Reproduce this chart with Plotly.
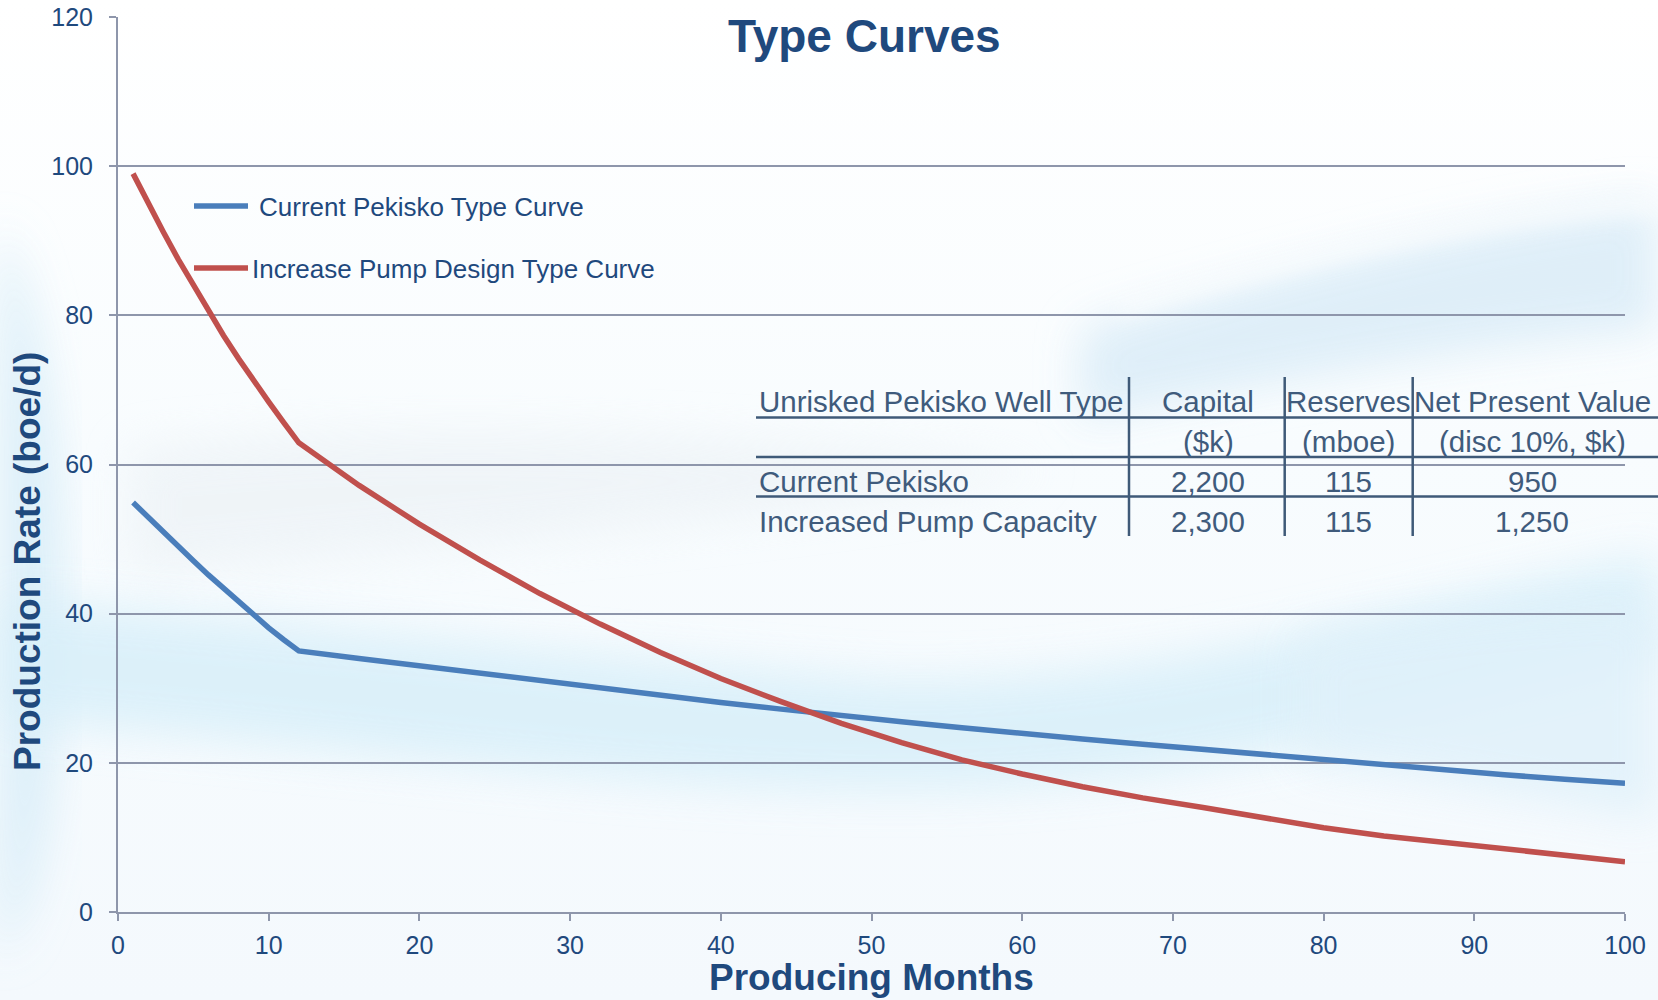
import base64
import plotly.graph_objects as go

# ---------------- data ----------------
months = [1, 2, 3, 4, 5, 6, 7, 8, 9, 10, 11, 12,
          16, 20, 24, 28, 32, 36, 40, 44, 48, 52, 56, 60,
          64, 68, 72, 76, 80, 84, 88, 92, 96, 100]
current_pekisko = [54.9, 52.9, 50.9, 49.0, 47.1, 45.2, 43.4, 41.6, 39.8, 38.1, 36.5, 35.0,
                   34.0, 33.0, 32.0, 31.0, 30.0, 29.0, 28.1, 27.2, 26.3, 25.5, 24.7, 23.9,
                   23.2, 22.5, 21.8, 21.1, 20.4, 19.7, 19.0, 18.4, 17.8, 17.25]
increase_pump = [99.0, 95.0, 91.2, 87.5, 84.0, 80.6, 77.3, 74.2, 71.2, 68.4, 65.6, 62.9,
                 57.2, 52.0, 47.2, 42.7, 38.6, 34.8, 31.3, 28.2, 25.3, 22.7, 20.4, 18.5,
                 16.8, 15.3, 14.0, 12.6, 11.3, 10.2, 9.3, 8.4, 7.55, 6.75]
series_names = ["Current Pekisko Type Curve", "Increase Pump Design Type Curve"]
series_colors = ["#4A7EBB", "#C0504D"]

x_ticks = [0, 10, 20, 30, 40, 50, 60, 70, 80, 90, 100]
y_ticks = [0, 20, 40, 60, 80, 100, 120]

table_header1 = ["Unrisked Pekisko Well Type", "Capital", "Reserves", "Net Present Value"]
table_header2 = ["", "($k)", "(mboe)", "(disc 10%, $k)"]
well_types = ["Current Pekisko", "Increased Pump Capacity"]
capital_k = ["2,200", "2,300"]
reserves_mboe = ["115", "115"]
npv_k = ["950", "1,250"]

# ---------------- geometry (pixels) ----------------
W, H = 1658, 1000
ML, MR, MT, MB = 118, 33, 17, 88
PW, PH = W - ML - MR, H - MT - MB


def px(xp):
    return (xp - ML) / PW


def py(yp):
    return (H - MB - yp) / PH


FONT = "Liberation Sans, Arial, sans-serif"
NAVY = "#1F497D"
GRID = "#8E96AB"
TBL_TXT = "#3F5B7C"
TBL_LINE = "#3F5A78"

# ---------------- background ----------------
svg = f'''<svg xmlns="http://www.w3.org/2000/svg" width="{W}" height="{H}" viewBox="0 0 {W} {H}">
<defs>
<linearGradient id="g0" x1="0" y1="0" x2="0" y2="1">
<stop offset="0" stop-color="#ffffff"/><stop offset="0.45" stop-color="#f8fcfe"/><stop offset="1" stop-color="#f4f9fd"/>
</linearGradient>
<filter id="b" x="-30%" y="-30%" width="160%" height="160%"><feGaussianBlur stdDeviation="22"/></filter>
<filter id="b2" x="-30%" y="-30%" width="160%" height="160%"><feGaussianBlur stdDeviation="10"/></filter>
</defs>
<rect width="{W}" height="{H}" fill="url(#g0)"/>
<path d="M0,220 C50,320 70,500 60,700 C50,820 40,900 0,960 Z" fill="#d8edf8" opacity="0.9" filter="url(#b)"/>
<path d="M130,450 C400,420 700,430 1050,470 C800,520 450,545 130,575 Z" fill="#eaf0f4" opacity="0.6" filter="url(#b)"/>
<path d="M0,600 C300,620 600,660 900,680 C1200,680 1450,590 1658,555 L1658,660 C1400,720 1200,790 900,790 C600,790 300,740 0,720 Z" fill="#d8eff9" opacity="0.85" filter="url(#b)"/>
<path d="M1080,330 C1280,270 1480,220 1658,200 L1658,330 C1480,345 1280,380 1080,420 Z" fill="#dcedf8" opacity="0.9" filter="url(#b)"/>
<path d="M1120,310 C1300,255 1500,215 1658,205" stroke="#ffffff" stroke-width="12" fill="none" opacity="0.7" filter="url(#b2)"/>
<path d="M1300,640 C1450,615 1560,605 1658,605 L1658,820 C1550,800 1420,780 1300,760 Z" fill="#e0f1fa" opacity="0.85" filter="url(#b)"/>
</svg>'''
bg_src = "data:image/svg+xml;base64," + base64.b64encode(svg.encode()).decode()

fig = go.Figure()
for name, ys, col in zip(series_names, [current_pekisko, increase_pump], series_colors):
    fig.add_trace(go.Scatter(x=months, y=ys, mode="lines", name=name,
                             line=dict(color=col, width=5.5), showlegend=False))

annotations = []
shapes = []

# title
annotations.append(dict(text="<b>Type Curves</b>", x=px(864), y=py(36), xref="paper", yref="paper",
                        xanchor="center", yanchor="middle", showarrow=False,
                        font=dict(family=FONT, size=46, color=NAVY)))
# axis titles
annotations.append(dict(text="<b>Producing Months</b>", x=px(871), y=py(977), xref="paper", yref="paper",
                        xanchor="center", yanchor="middle", showarrow=False,
                        font=dict(family=FONT, size=37, color=NAVY)))
annotations.append(dict(text="<b>Production Rate (boe/d)</b>", x=px(27), y=py(562), xref="paper", yref="paper",
                        xanchor="center", yanchor="middle", showarrow=False, textangle=-90,
                        font=dict(family=FONT, size=37, color=NAVY)))

# legend (manual)
leg_rows = [(206, 257), (268, 250)]
for (ly, tx), name, col in zip(leg_rows, series_names, series_colors):
    shapes.append(dict(type="line", xref="paper", yref="paper", x0=px(194), x1=px(248), y0=py(ly), y1=py(ly),
                       line=dict(color=col, width=5.5)))
    annotations.append(dict(text=name, x=px(tx), y=py(ly + 1), xref="paper", yref="paper",
                            xanchor="left", yanchor="middle", showarrow=False,
                            font=dict(family=FONT, size=26, color=NAVY)))

# table
col_centers = [None, 1208, 1348, 1532]
left_x = 757
row_y = [401.5, 441.5, 481.5, 521.5]
rows = [table_header1, table_header2,
        [well_types[0], capital_k[0], reserves_mboe[0], npv_k[0]],
        [well_types[1], capital_k[1], reserves_mboe[1], npv_k[1]]]
for ry, row in zip(row_y, rows):
    for ci, txt in enumerate(row):
        if not txt:
            continue
        if ci == 0:
            annotations.append(dict(text=txt, x=px(left_x), y=py(ry), xref="paper", yref="paper",
                                    xanchor="left", yanchor="middle", showarrow=False,
                                    font=dict(family=FONT, size=29.5, color=TBL_TXT)))
        else:
            annotations.append(dict(text=txt, x=px(col_centers[ci]), y=py(ry), xref="paper", yref="paper",
                                    xanchor="center", yanchor="middle", showarrow=False,
                                    font=dict(family=FONT, size=29.5, color=TBL_TXT)))
for hy in [417.5, 457, 496.5]:
    shapes.append(dict(type="line", xref="paper", yref="paper", x0=px(756), x1=px(W + 5), y0=py(hy), y1=py(hy),
                       line=dict(color=TBL_LINE, width=2.5)))
for vx in [1129, 1284.7, 1412.7]:
    shapes.append(dict(type="line", xref="paper", yref="paper", x0=px(vx), x1=px(vx), y0=py(377), y1=py(536),
                       line=dict(color=TBL_LINE, width=2.5)))

fig.update_layout(
    width=W, height=H, autosize=False,
    margin=dict(l=ML, r=MR, t=MT, b=MB, pad=0, autoexpand=False),
    paper_bgcolor="#ffffff",
    plot_bgcolor="rgba(0,0,0,0)",
    showlegend=False,
    font=dict(family=FONT, color=NAVY),
    annotations=annotations,
    shapes=shapes,
    images=[dict(source=bg_src, xref="paper", yref="paper", x=px(0), y=py(0),
                 sizex=W / PW, sizey=H / PH, sizing="stretch", xanchor="left", yanchor="top",
                 layer="below")],
    xaxis=dict(range=[0, 100], tickvals=x_ticks, showgrid=False, zeroline=False, automargin=False,
               showline=True, linecolor=GRID, linewidth=2,
               ticks="outside", ticklen=7, tickwidth=2, tickcolor=GRID,
               tickfont=dict(family=FONT, size=25, color=NAVY), ticklabelstandoff=3),
    yaxis=dict(range=[0, 120], tickvals=y_ticks, showgrid=True, gridcolor=GRID, gridwidth=2, automargin=False,
               zeroline=False, showline=True, linecolor=GRID, linewidth=2,
               ticks="outside", ticklen=7, tickwidth=2, tickcolor=GRID,
               tickfont=dict(family=FONT, size=25, color=NAVY), ticklabelstandoff=11),
)

fig.write_html("out.html", config={"displayModeBar": False})

# remove default page margin so the 1658x1000 figure fills the window exactly
with open("out.html", "r", encoding="utf-8") as f:
    html = f.read()
html = html.replace("<head>", "<head><style>html,body{margin:0;padding:0;overflow:hidden;}</style>", 1)
with open("out.html", "w", encoding="utf-8") as f:
    f.write(html)
